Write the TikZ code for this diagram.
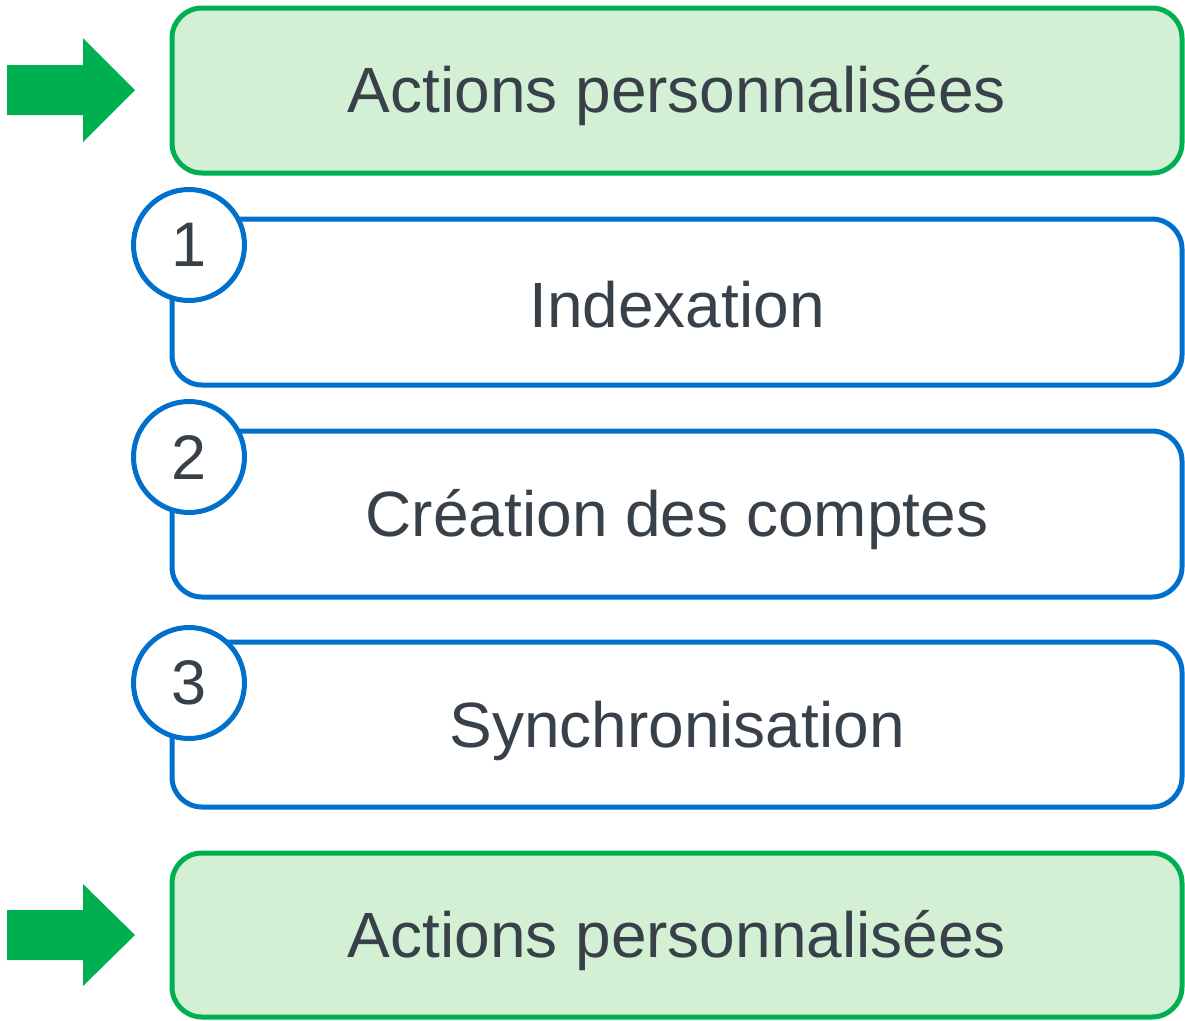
\documentclass[tikz,border=0pt]{standalone}
\usepackage{fontspec}
\setmainfont{Liberation Sans}
\definecolor{grn}{HTML}{00B050}
\definecolor{grnfill}{HTML}{D4F0D4}
\definecolor{blu}{HTML}{0070CC}
\definecolor{txt}{HTML}{38404A}
\begin{document}
\begin{tikzpicture}[x=1pt,y=-1pt,
  greenbox/.style={draw=grn,fill=grnfill,line width=5pt,rounded corners=30pt},
  bluebox/.style={draw=blu,fill=white,line width=5pt,rounded corners=30pt},
  numcirc/.style={circle,draw=blu,fill=white,line width=5pt,minimum size=111pt,inner sep=0pt,text=txt,font=\fontsize{63}{66}\selectfont},
  lbl/.style={text=txt,font=\fontsize{64}{74}\selectfont,inner sep=0pt},
  bigarrow/.style={fill=grn}]
\useasboundingbox (0,0) rectangle (1185,1020);
% top green
\draw[greenbox] (172,8) rectangle (1182,173);
\node[lbl] (t1) at (677,96) {Actions personnalisées};
\fill[bigarrow] (7,65) -- (83,65) -- (83,38) -- (135,90) -- (83,142) -- (83,115) -- (7,115) -- cycle;
% box 1
\draw[bluebox] (172,219) rectangle (1182,385);
\node[numcirc] (c1) at (189,245) {1};
\node[lbl] (b1) at (677,305) {Indexation};
% box 2
\draw[bluebox] (172,431) rectangle (1182,597);
\node[numcirc] (c2) at (189,457) {2};
\node[lbl] (b2) at (677,520) {Création des comptes};
% box 3
\draw[bluebox] (172,642) rectangle (1182,807);
\node[numcirc] (c3) at (189,683) {3};
\node[lbl] (b3) at (677,731) {Synchronisation};
% bottom green
\draw[greenbox] (172,853) rectangle (1182,1017);
\node[lbl] (t2) at (677,941) {Actions personnalisées};
\fill[bigarrow] (7,910) -- (83,910) -- (83,884) -- (135,935) -- (83,986) -- (83,960) -- (7,960) -- cycle;
\end{tikzpicture}
\end{document}
